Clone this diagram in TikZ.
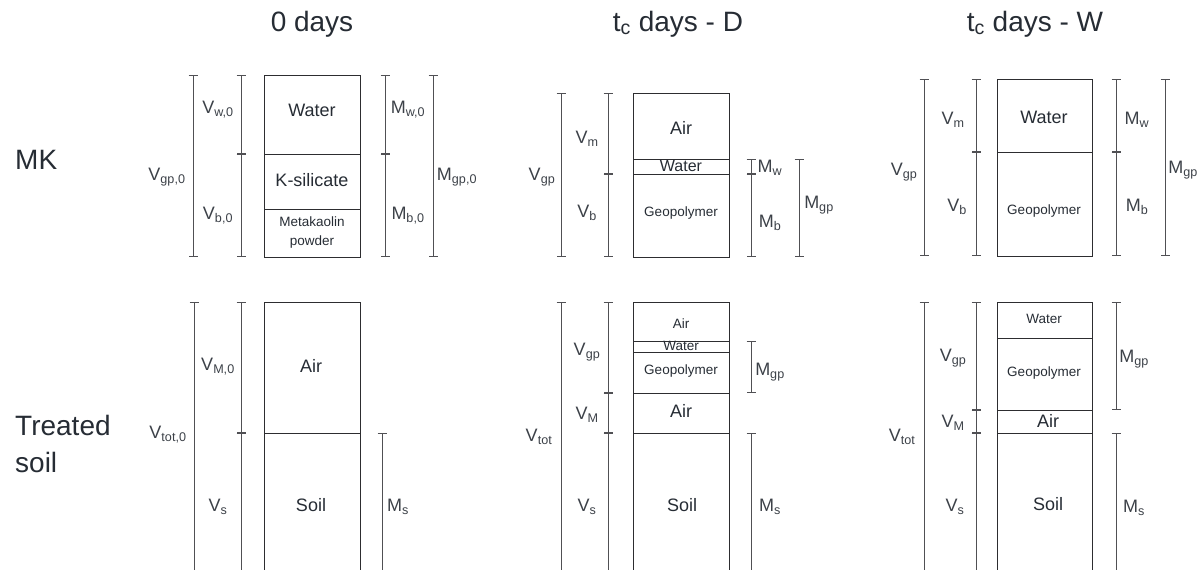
\documentclass[tikz,border=0pt]{standalone}
\usepackage{fontspec}
\setmainfont{Liberation Sans}
\usetikzlibrary{arrows.meta}
\definecolor{ink}{RGB}{38,44,52}
\definecolor{rule}{RGB}{45,45,48}
\definecolor{dimc}{RGB}{80,80,84}
\newcommand{\lsub}[1]{\textsubscript{#1}}
\tikzset{
  title/.style={font=\fontsize{28}{32}\selectfont, text=ink, inner sep=0},
  rowlab/.style={font=\fontsize{28}{37}\selectfont, text=ink, inner sep=0, align=left, anchor=north west},
  qty/.style={font=\fontsize{18}{20}\selectfont, text=ink!90, inner sep=0},
  phbig/.style={font=\fontsize{18}{20}\selectfont, text=ink, inner sep=0},
  phmid/.style={font=\fontsize{16}{18}\selectfont, text=ink, inner sep=0},
  phsmall/.style={font=\fontsize{13.5}{19}\selectfont, text=ink, inner sep=0, align=center},
  phase/.style={draw=rule, line width=0.85pt},
  dim/.style={draw=dimc, line width=0.95pt, {Bar[width=9pt]}-{Bar[width=9pt]}},
  dimopen/.style={draw=dimc, line width=0.95pt, {Bar[width=9pt]}-},
}
\begin{document}
\begin{tikzpicture}[x=1pt,y=-1pt]
\useasboundingbox (0,0) rectangle (1202,570);

% column and row headings
\node[title] (t0) at (312,24) {0 days};
\node[title] (tD) at (678,24) {t\lsub{c} days - D};
\node[title] (tW) at (1035,24) {t\lsub{c} days - W};
\node[rowlab] (rMK) at (15,150) {MK};
\node[rowlab] (rTS) at (15,415) {Treated\\soil};

% ---------------- MK, 0 days ----------------
\draw[phase] (264,75) rectangle (360,257);
\draw[phase] (264,154) -- (360,154);
\draw[phase] (264,209) -- (360,209);
\node[phbig] (a1) at (312,110) {Water};
\node[phbig] (a2) at (312,180) {K-silicate};
\node[phsmall] (a3) at (312,233) {Metakaolin\\powder};
\coordinate (a0t) at (193,75); \coordinate (a0b) at (193,257);
\draw[dim] (a0t) -- (a0b);
\coordinate (a1t) at (241,75); \coordinate (a1m) at (241,154); \coordinate (a1b) at (241,257);
\draw[dim] (a1t) -- (a1m); \draw[dim] (a1m) -- (a1b);
\coordinate (a2t) at (385,75); \coordinate (a2m) at (385,154); \coordinate (a2b) at (385,257);
\draw[dim] (a2t) -- (a2m); \draw[dim] (a2m) -- (a2b);
\coordinate (a3t) at (433,75); \coordinate (a3b) at (433,257);
\draw[dim] (a3t) -- (a3b);
\node[qty] (aV0) at (167,177) {V\lsub{gp,0}};
\node[qty] (aV1) at (218,110) {V\lsub{w,0}};
\node[qty] (aV2) at (218,216) {V\lsub{b,0}};
\node[qty] (aM1) at (408,110) {M\lsub{w,0}};
\node[qty] (aM2) at (408,216) {M\lsub{b,0}};
\node[qty] (aM0) at (457,177) {M\lsub{gp,0}};

% ---------------- MK, tc days - D ----------------
\draw[phase] (633,93) rectangle (729,257);
\draw[phase] (633,159) -- (729,159);
\draw[phase] (633,174) -- (729,174);
\node[phbig] (b1) at (681,128) {Air};
\node[phmid] (b2) at (681,166) {Water};
\node[phsmall] (b3) at (681,213) {Geopolymer};
\coordinate (b0t) at (561,93); \coordinate (b0b) at (561,257);
\draw[dim] (b0t) -- (b0b);
\coordinate (b1t) at (608,93); \coordinate (b1m) at (608,174); \coordinate (b1b) at (608,257);
\draw[dim] (b1t) -- (b1m); \draw[dim] (b1m) -- (b1b);
\coordinate (b2t) at (751,159); \coordinate (b2m) at (751,174); \coordinate (b2b) at (751,257);
\draw[dim] (b2t) -- (b2m); \draw[dim] (b2m) -- (b2b);
\coordinate (b3t) at (799,159); \coordinate (b3b) at (799,257);
\draw[dim] (b3t) -- (b3b);
\node[qty] (bV0) at (542,177) {V\lsub{gp}};
\node[qty] (bV1) at (587,139) {V\lsub{m}};
\node[qty] (bV2) at (587,213) {V\lsub{b}};
\node[qty] (bM1) at (770,168) {M\lsub{w}};
\node[qty] (bM2) at (770,223) {M\lsub{b}};
\node[qty] (bM0) at (819,205) {M\lsub{gp}};

% ---------------- MK, tc days - W ----------------
\draw[phase] (997,79) rectangle (1092,256);
\draw[phase] (997,152) -- (1092,152);
\node[phbig] (c1) at (1044,117) {Water};
\node[phsmall] (c2) at (1044,211) {Geopolymer};
\coordinate (c0t) at (924,79); \coordinate (c0b) at (924,256);
\draw[dim] (c0t) -- (c0b);
\coordinate (c1t) at (976,79); \coordinate (c1m) at (976,152); \coordinate (c1b) at (976,256);
\draw[dim] (c1t) -- (c1m); \draw[dim] (c1m) -- (c1b);
\coordinate (c2t) at (1116,79); \coordinate (c2m) at (1116,152); \coordinate (c2b) at (1116,256);
\draw[dim] (c2t) -- (c2m); \draw[dim] (c2m) -- (c2b);
\coordinate (c3t) at (1165,79); \coordinate (c3b) at (1165,256);
\draw[dim] (c3t) -- (c3b);
\node[qty] (cV0) at (904,172) {V\lsub{gp}};
\node[qty] (cV1) at (953,120) {V\lsub{m}};
\node[qty] (cV2) at (957,207) {V\lsub{b}};
\node[qty] (cM1) at (1137,120) {M\lsub{w}};
\node[qty] (cM2) at (1137,207) {M\lsub{b}};
\node[qty] (cM0) at (1183,170) {M\lsub{gp}};

% ---------------- Treated soil, 0 days ----------------
\draw[phase] (264,571) -- (264,302) -- (360,302) -- (360,571);
\draw[phase] (264,433) -- (360,433);
\node[phbig] (d1) at (311,366) {Air};
\node[phbig] (d2) at (311,505) {Soil};
\coordinate (d0t) at (194,302); \coordinate (d0b) at (194,571);
\draw[dimopen] (d0t) -- (d0b);
\coordinate (d1t) at (241,302); \coordinate (d1m) at (241,433); \coordinate (d1b) at (241,571);
\draw[dim] (d1t) -- (d1m); \draw[dimopen] (d1m) -- (d1b);
\coordinate (d2m) at (382,433); \coordinate (d2b) at (382,571);
\draw[dimopen] (d2m) -- (d2b);
\node[qty] (dV0) at (168,435) {V\lsub{tot,0}};
\node[qty] (dV1) at (218,367) {V\lsub{M,0}};
\node[qty] (dV2) at (218,507) {V\lsub{s}};
\node[qty] (dM2) at (398,507) {M\lsub{s}};

% ---------------- Treated soil, tc days - D ----------------
\draw[phase] (633,571) -- (633,302) -- (729,302) -- (729,571);
\draw[phase] (633,341) -- (729,341);
\draw[phase] (633,352) -- (729,352);
\draw[phase] (633,393) -- (729,393);
\draw[phase] (633,433) -- (729,433);
\node[phsmall] (e1) at (681,324) {Air};
\node[phsmall] (e2) at (681,346) {Water};
\node[phsmall] (e3) at (681,371) {Geopolymer};
\node[phbig] (e4) at (681,411) {Air};
\node[phbig] (e5) at (682,505) {Soil};
\coordinate (e0t) at (561,302); \coordinate (e0b) at (561,571);
\draw[dimopen] (e0t) -- (e0b);
\coordinate (e1t) at (608,302); \coordinate (e1m) at (608,393); \coordinate (e1n) at (608,433); \coordinate (e1b) at (608,571);
\draw[dim] (e1t) -- (e1m); \draw[dim] (e1m) -- (e1n); \draw[dimopen] (e1n) -- (e1b);
\coordinate (e2t) at (751,341); \coordinate (e2m) at (751,393);
\draw[dim] (e2t) -- (e2m);
\coordinate (e2n) at (751,433); \coordinate (e2b) at (751,571);
\draw[dimopen] (e2n) -- (e2b);
\node[qty] (eV0) at (539,437) {V\lsub{tot}};
\node[qty] (eV1) at (587,352) {V\lsub{gp}};
\node[qty] (eV2) at (587,415) {V\lsub{M}};
\node[qty] (eV3) at (587,507) {V\lsub{s}};
\node[qty] (eM1) at (770,372) {M\lsub{gp}};
\node[qty] (eM2) at (770,507) {M\lsub{s}};

% ---------------- Treated soil, tc days - W ----------------
\draw[phase] (997,571) -- (997,302) -- (1092,302) -- (1092,571);
\draw[phase] (997,338) -- (1092,338);
\draw[phase] (997,410) -- (1092,410);
\draw[phase] (997,433) -- (1092,433);
\node[phsmall] (f1) at (1044,319) {Water};
\node[phsmall] (f2) at (1044,373) {Geopolymer};
\node[phbig] (f3) at (1048,421) {Air};
\node[phbig] (f4) at (1048,504) {Soil};
\coordinate (f0t) at (924,302); \coordinate (f0b) at (924,571);
\draw[dimopen] (f0t) -- (f0b);
\coordinate (f1t) at (976,302); \coordinate (f1m) at (976,410); \coordinate (f1n) at (976,433); \coordinate (f1b) at (976,571);
\draw[dim] (f1t) -- (f1m); \draw[dim] (f1m) -- (f1n); \draw[dimopen] (f1n) -- (f1b);
\coordinate (f2t) at (1116,302); \coordinate (f2m) at (1116,410);
\draw[dim] (f2t) -- (f2m);
\coordinate (f2n) at (1116,433); \coordinate (f2b) at (1116,571);
\draw[dimopen] (f2n) -- (f2b);
\node[qty] (fV0) at (902,437) {V\lsub{tot}};
\node[qty] (fV1) at (953,358) {V\lsub{gp}};
\node[qty] (fV2) at (953,423) {V\lsub{M}};
\node[qty] (fV3) at (955,507) {V\lsub{s}};
\node[qty] (fM1) at (1134,359) {M\lsub{gp}};
\node[qty] (fM2) at (1134,508) {M\lsub{s}};
\end{tikzpicture}
\end{document}
